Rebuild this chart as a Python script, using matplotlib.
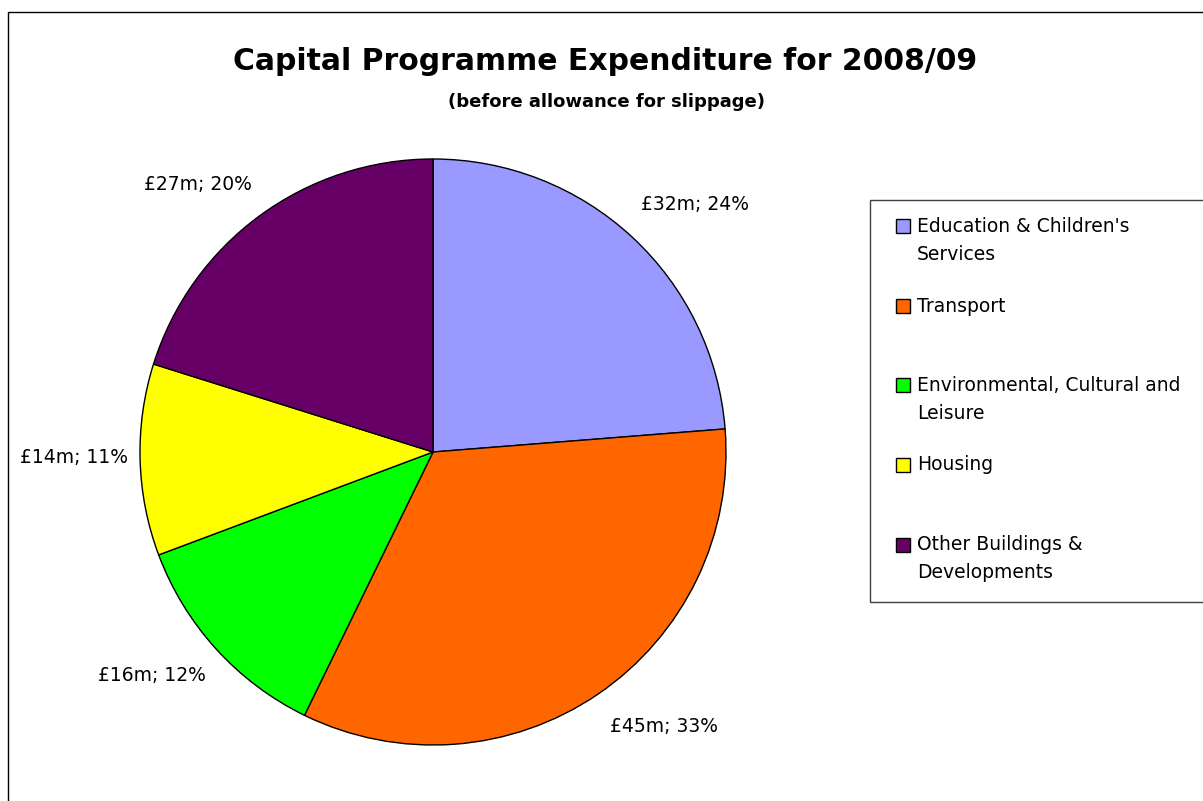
import matplotlib
matplotlib.use("Agg")
import matplotlib.pyplot as plt
from matplotlib.patches import Rectangle
import numpy as np

# ---- data ----
categories = ["Education & Children's\nServices", "Transport",
              "Environmental, Cultural and\nLeisure", "Housing",
              "Other Buildings &\nDevelopments"]
values = [31.7, 44.7, 16.1, 14.1, 26.9]   # £m
colors = ["#9999FF", "#FF6600", "#00FF00", "#FFFF00", "#660066"]
title = "Capital Programme Expenditure for 2008/09"
subtitle = "(before allowance for slippage)"

W, H = 1203, 801
fig = plt.figure(figsize=(W / 100, H / 100), dpi=100)
plt.rcParams['font.family'] = ['DejaVu Sans']

def fx(px):
    return px / W

def fy(py):
    return 1 - py / H

# outer frame
fig.patches.append(Rectangle((fx(8), -0.1), 1.2, fy(12) + 0.1, transform=fig.transFigure,
                             fill=False, edgecolor="black", lw=1.0))

# title
fig.text(fx(605), fy(61), title, ha="center", va="center", fontsize=21.5, fontweight="bold")
fig.text(fx(607), fy(102), subtitle, ha="center", va="center", fontsize=13, fontweight="bold")

# pie
cx, cy, r = 433, 452, 293
ax = fig.add_axes([fx(cx - r), fy(cy + r), (2 * r) / W, (2 * r) / H])
wedges, _ = ax.pie(values, colors=colors, startangle=90, counterclock=False,
                   wedgeprops=dict(edgecolor="black", linewidth=1.0))
ax.set_xlim(-1, 1)
ax.set_ylim(-1, 1)
ax.set_aspect("equal")
ax.axis("off")

total = sum(values)
# (distance, angle offset in degrees) for each data label, Excel-style placement
label_layout = [(1.102, 2.7), (1.115, -1.5), (1.088, 2.3), (1.041, -0.6), (1.103, -2.1)]
for w, v, (d, dth) in zip(wedges, values, label_layout):
    ang = np.deg2rad((w.theta1 + w.theta2) / 2 + dth)
    x, y = d * np.cos(ang), d * np.sin(ang)
    ha = "left" if x > 0 else "right"
    ax.text(x, y, f"£{v:.0f}m; {100 * v / total:.0f}%", ha=ha, va="center",
            fontsize=13.5, clip_on=False)

# legend (manual, Excel style)
fig.patches.append(Rectangle((fx(870), fy(602)), fx(1260) - fx(870), fy(200) - fy(602),
                             transform=fig.transFigure, fill=False, edgecolor="#404040", lw=1.0))
ys = [226, 306, 385, 465, 545]
for lab, col, yy in zip(categories, colors, ys):
    fig.patches.append(Rectangle((fx(896), fy(yy + 7)), 14 / W, 14 / H, transform=fig.transFigure,
                                 facecolor=col, edgecolor="black", lw=1.0))
    for i, line in enumerate(lab.split("\n")):
        fig.text(fx(917), fy(yy + 28 * i), line, ha="left", va="center", fontsize=13.5)

fig.savefig("out.png", dpi=100)
